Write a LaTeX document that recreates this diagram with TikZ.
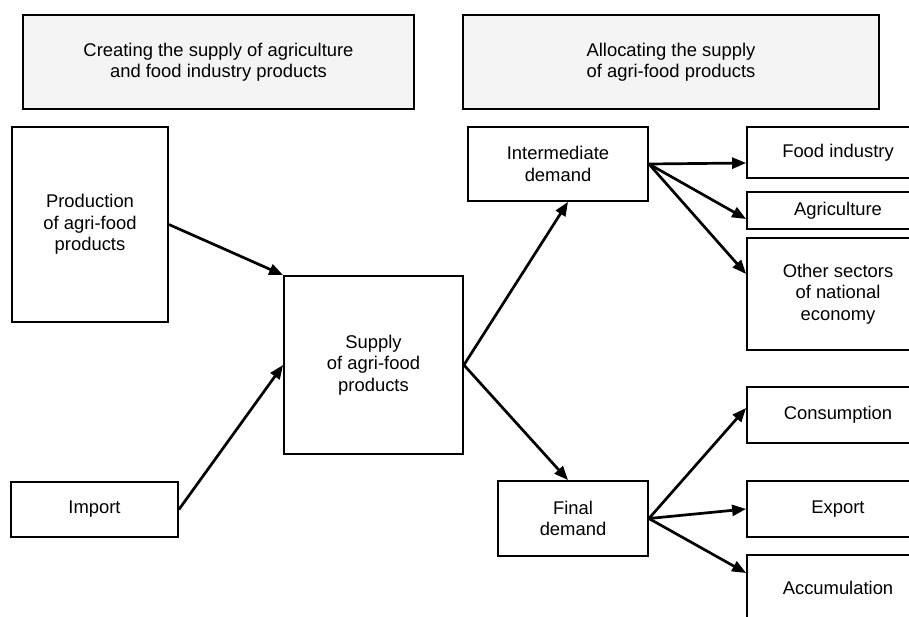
\documentclass[tikz,border=0pt]{standalone}
\usepackage{fontspec}
\setmainfont{Liberation Sans}
\usetikzlibrary{arrows.meta}
\definecolor{headfill}{HTML}{F4F4F4}
\begin{document}
\begin{tikzpicture}[x=1pt,y=-1pt,
  box/.style={draw, line width=1.8pt, inner sep=0pt, align=center,
    font=\fontsize{18.4}{21.5}\selectfont},
  head/.style={box, fill=headfill},
  rbox/.style={box, minimum width=182},
  arr/.style={line width=2.7pt, -{Triangle[length=14pt,width=11pt]}},
  ]
\useasboundingbox (0,0) rectangle (909,617);
\clip (0,0) rectangle (909,617);

\node[head, minimum width=391, minimum height=94] (head1) at (218.5,62)
  {Creating the supply of agriculture\\and food industry products};
\node[head, minimum width=416, minimum height=94] (head2) at (671,62)
  {Allocating the supply\\of agri-food products};

\node[box, minimum width=156, minimum height=195] (prod) at (90,224.5)
  {Production\\of agri-food\\products};
\node[box, minimum width=167, minimum height=55] (imp) at (94.5,509.5) {Import};
\node[box, minimum width=179, minimum height=178] (supply) at (373.5,365)
  {Supply\\of agri-food\\products};
\node[box, minimum width=180, minimum height=74] (inter) at (558,164)
  {Intermediate\\demand};
\node[box, minimum width=150, minimum height=75] (final) at (573,518.5)
  {Final\\demand};

\node[rbox, minimum height=51] (food) at (838,152.5) {Food industry};
\node[rbox, minimum height=37] (agri) at (838,210.5) {Agriculture};
\node[rbox, minimum height=112] (other) at (838,294)
  {Other sectors\\of national\\economy};
\node[rbox, minimum height=56] (cons) at (838,415) {Consumption};
\node[rbox, minimum height=56] (export) at (838,509) {Export};
\node[rbox, minimum height=66] (accum) at (838,588) {Accumulation};

\draw[arr] (prod.east) -- (supply.north west);
\draw[arr] (imp.east) -- (supply.west);
\draw[arr] (supply.east) -- ([xshift=10]inter.south);
\draw[arr] (supply.east) -- ([xshift=-5]final.north);
\draw[arr] (inter.east) -- ([yshift=-10.5]food.west);
\draw[arr] (inter.east) -- ([yshift=-8.5]agri.west);
\draw[arr] (inter.east) -- ([yshift=20]other.west);
\draw[arr] (final.east) -- ([yshift=7]cons.west);
\draw[arr] (final.east) -- (export.west);
\draw[arr] (final.east) -- ([yshift=15]accum.west);
\end{tikzpicture}
\end{document}
